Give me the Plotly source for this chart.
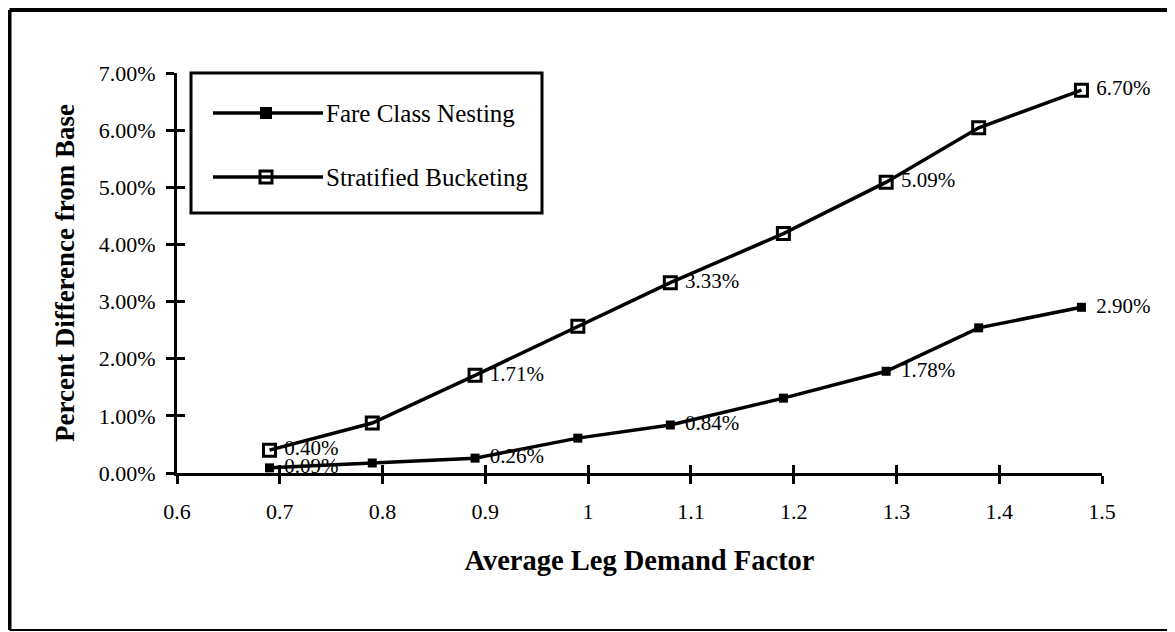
import plotly.graph_objects as go

# ---- data ----
demand_factor = [0.69, 0.79, 0.89, 0.99, 1.08, 1.19, 1.29, 1.38, 1.48]
fare_class_nesting = [0.09, 0.175, 0.26, 0.61, 0.84, 1.31, 1.78, 2.54, 2.90]
stratified_bucketing = [0.40, 0.875, 1.71, 2.57, 3.33, 4.19, 5.09, 6.04, 6.70]
fare_labels = ["0.09%", "", "0.26%", "", "0.84%", "", "1.78%", "", "2.90%"]
strat_labels = ["0.40%", "", "1.71%", "", "3.33%", "", "5.09%", "", "6.70%"]
x_ticks = [0.6, 0.7, 0.8, 0.9, 1.0, 1.1, 1.2, 1.3, 1.4, 1.5]
x_tick_text = ["0.6", "0.7", "0.8", "0.9", "1", "1.1", "1.2", "1.3", "1.4", "1.5"]
y_ticks = [0, 1, 2, 3, 4, 5, 6, 7]
y_tick_text = ["0.00%", "1.00%", "2.00%", "3.00%", "4.00%", "5.00%", "6.00%", "7.00%"]
series_names = ["Fare Class Nesting", "Stratified Bucketing"]

FONT = "Liberation Serif"
OFF = 8  # page body margin offset
W, H = 1175 - OFF, 632 - OFF
# plot area in page coordinates: x 177..1102, y 73..473
L, T = 177 - OFF, 73 - OFF
R, B = W - (1102 - OFF), H - (473 - OFF)
PW, PH = 1102 - 177, 473 - 73


def px(p):  # page x -> paper
    return (p - 177) / PW


def py(p):  # page y -> paper
    return (473 - p) / PH


fig = go.Figure()

# lines + markers
fig.add_trace(go.Scatter(
    x=demand_factor, y=stratified_bucketing, mode="lines+markers",
    name=series_names[1],
    line=dict(color="black", width=3.5),
    marker=dict(symbol="square-open", size=12, color="black",
                line=dict(width=3, color="black")),
    cliponaxis=False, showlegend=False,
))
fig.add_trace(go.Scatter(
    x=demand_factor, y=fare_class_nesting, mode="lines+markers",
    name=series_names[0],
    line=dict(color="black", width=3.5),
    marker=dict(symbol="square", size=9, color="black"),
    cliponaxis=False, showlegend=False,
))
# value labels (transparent markers give the label offset)
for vals, labels in ((stratified_bucketing, strat_labels),
                     (fare_class_nesting, fare_labels)):
    fig.add_trace(go.Scatter(
        x=demand_factor, y=vals, mode="markers+text", text=labels,
        textposition="middle right",
        textfont=dict(family=FONT, size=21, color="black"),
        marker=dict(size=22, color="rgba(0,0,0,0)"),
        cliponaxis=False, showlegend=False, hoverinfo="skip",
    ))

# dummy trace to activate the overlay axes (inside half of crossing ticks)
fig.add_trace(go.Scatter(x=[None], y=[None], xaxis="x2", yaxis="y2",
                         showlegend=False, hoverinfo="skip"))

axis_common = dict(showgrid=False, zeroline=False, showline=True,
                   linecolor="black", linewidth=3, ticks="outside",
                   ticklen=8, tickwidth=3, tickcolor="black")

fig.update_layout(
    width=W, height=H,
    margin=dict(l=L, r=R, t=T, b=B, autoexpand=False),
    paper_bgcolor="white", plot_bgcolor="white",
    font=dict(family=FONT, color="black"),
    xaxis=dict(range=[0.6, 1.5], tickvals=x_ticks, ticktext=x_tick_text,
               tickfont=dict(family=FONT, size=22, color="black"),
               ticklabelstandoff=9,
               title=dict(text="<b>Average Leg Demand Factor</b>",
                          font=dict(family=FONT, size=28.5, color="black"),
                          standoff=27),
               **axis_common),
    yaxis=dict(range=[0, 7], tickvals=y_ticks, ticktext=y_tick_text,
               tickfont=dict(family=FONT, size=22, color="black"),
               ticklabelstandoff=6,
               title=dict(text="<b>Percent Difference from Base</b>",
                          font=dict(family=FONT, size=27, color="black"),
                          standoff=17),
               **axis_common),
    xaxis2=dict(range=[0.6, 1.5], tickvals=x_ticks, overlaying="x",
                anchor="y", showticklabels=False, showgrid=False,
                zeroline=False, showline=False, ticks="inside", ticklen=8,
                tickwidth=3, tickcolor="black"),
    yaxis2=dict(range=[0, 7], tickvals=y_ticks, overlaying="y",
                anchor="x", showticklabels=False, showgrid=False,
                zeroline=False, showline=False, ticks="inside", ticklen=8,
                tickwidth=3, tickcolor="black"),
)

# outer frame (thicker left/top edges as in the scan)
frame = [
    (9.5, 9.5, 10, 630, 4),      # left
    (9.5, 1170, 10, 10, 4),      # top
    (1170, 1170, 10, 630, 2),    # right
    (9.5, 1170, 630, 630, 2),    # bottom
]
for x0, x1, y0, y1, w in frame:
    fig.add_shape(type="line", xref="paper", yref="paper",
                  x0=px(x0), x1=px(x1), y0=py(y0), y1=py(y1),
                  line=dict(color="black", width=w), layer="below")

# legend box drawn by hand to match the long sample lines
fig.add_shape(type="rect", xref="paper", yref="paper",
              x0=px(191), x1=px(542), y0=py(213), y1=py(73),
              line=dict(color="black", width=3), fillcolor="white",
              layer="below")
legend_rows = [(113, "square", 9), (177, "square-open", 12)]
for (ypix, sym, size), name in zip(legend_rows, series_names):
    fig.add_shape(type="line", xref="paper", yref="paper",
                  x0=px(213), x1=px(323), y0=py(ypix), y1=py(ypix),
                  line=dict(color="black", width=3.5), layer="below")
    fig.add_annotation(xref="paper", yref="paper", x=px(324), y=py(ypix),
                       text=name, showarrow=False, xanchor="left",
                       yanchor="middle",
                       font=dict(family=FONT, size=25, color="black"))
    fig.add_trace(go.Scatter(
        x=[px(266)], y=[py(ypix)], xaxis="x3", yaxis="y3", mode="markers",
        marker=dict(symbol=sym, size=size, color="black",
                    line=dict(width=3, color="black")),
        showlegend=False, hoverinfo="skip", cliponaxis=False))

fig.update_layout(
    xaxis3=dict(range=[0, 1], overlaying="x", visible=False, fixedrange=True),
    yaxis3=dict(range=[0, 1], overlaying="y", visible=False, fixedrange=True),
)

fig.write_html("out.html")
